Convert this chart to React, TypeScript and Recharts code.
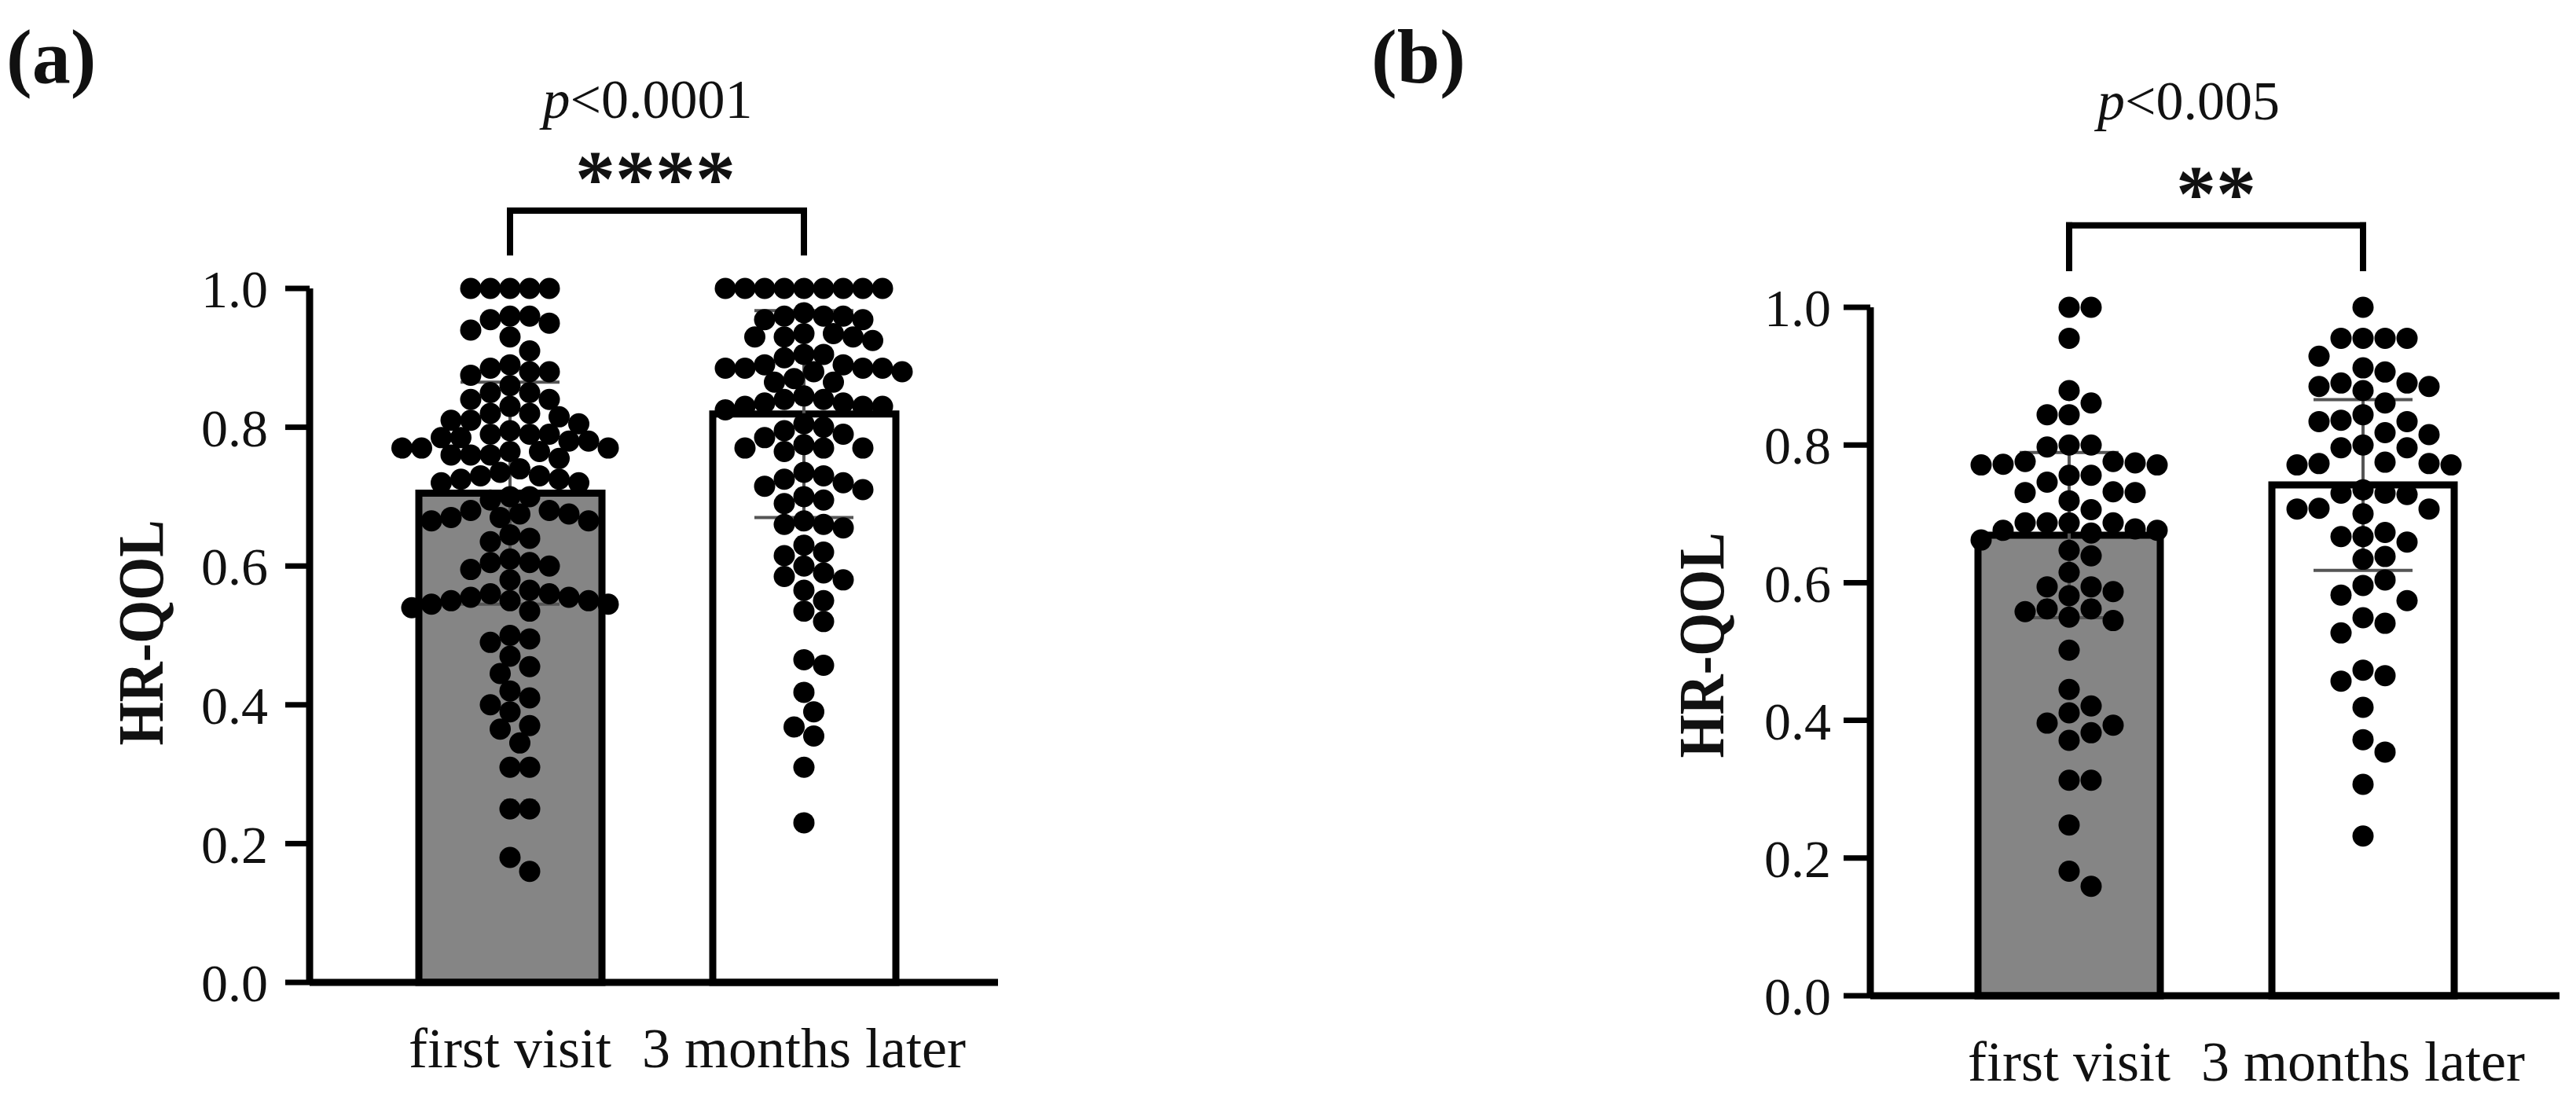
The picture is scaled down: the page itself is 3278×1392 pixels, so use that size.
import React from "react";
import {
  Bar,
  Cell,
  ComposedChart,
  ErrorBar,
  ReferenceLine,
  Scatter,
  XAxis,
  YAxis,
} from "recharts";

const serif = "'Liberation Serif', 'Times New Roman', Times, serif";
const W = 3278;
const H = 1392;

const GROUPS = ["first visit", "3 months later"];
const Y_TICKS = [0, 0.2, 0.4, 0.6, 0.8, 1.0];
const FILLS = ["#858585", "#ffffff"];

// panel (a)
const A_MEANS = [0.705, 0.819];
const A_SD = [0.16, 0.149];
const A_FIRST = [
  1.0, 1.0, 1.0, 1.0, 1.0, 0.96, 0.96, 0.955, 0.95, 0.94, 0.93, 0.91, 0.89,
  0.885, 0.88, 0.88, 0.875, 0.86, 0.85, 0.85, 0.84, 0.84, 0.83, 0.82, 0.82,
  0.815, 0.81, 0.81, 0.805, 0.795, 0.79, 0.79, 0.79, 0.785, 0.785, 0.78, 0.78,
  0.77, 0.77, 0.77, 0.765, 0.765, 0.76, 0.76, 0.76, 0.755, 0.74, 0.735, 0.73,
  0.73, 0.725, 0.725, 0.72, 0.72, 0.7, 0.7, 0.695, 0.68, 0.68, 0.675, 0.675,
  0.67, 0.67, 0.665, 0.665, 0.645, 0.64, 0.635, 0.61, 0.605, 0.605, 0.6,
  0.595, 0.58, 0.565, 0.56, 0.56, 0.555, 0.555, 0.55, 0.55, 0.55, 0.545,
  0.545, 0.54, 0.535, 0.5, 0.495, 0.49, 0.47, 0.455, 0.445, 0.42, 0.41, 0.4,
  0.39, 0.37, 0.365, 0.345, 0.31, 0.31, 0.25, 0.25, 0.18, 0.16,
];
const A_LATER = [
  1.0, 1.0, 1.0, 1.0, 1.0, 1.0, 1.0, 1.0, 1.0, 0.965, 0.96, 0.96, 0.96, 0.955,
  0.955, 0.935, 0.935, 0.93, 0.93, 0.93, 0.925, 0.905, 0.905, 0.9, 0.89, 0.89,
  0.885, 0.885, 0.885, 0.885, 0.88, 0.88, 0.87, 0.865, 0.865, 0.845, 0.84,
  0.84, 0.835, 0.835, 0.83, 0.83, 0.83, 0.825, 0.805, 0.8, 0.795, 0.79, 0.785,
  0.775, 0.77, 0.77, 0.77, 0.765, 0.735, 0.73, 0.725, 0.72, 0.715, 0.71, 0.7,
  0.695, 0.69, 0.665, 0.66, 0.66, 0.655, 0.63, 0.62, 0.615, 0.6, 0.59, 0.585,
  0.58, 0.565, 0.55, 0.535, 0.52, 0.465, 0.457, 0.418, 0.39, 0.368, 0.355,
  0.31, 0.23,
];

// panel (b)
const B_MEANS = [0.669, 0.742];
const B_SD = [0.12, 0.124];
const B_FIRST = [
  1.0, 1.0, 0.955, 0.879, 0.861, 0.844, 0.844, 0.8, 0.8, 0.797, 0.771, 0.772,
  0.776, 0.776, 0.771, 0.774, 0.756, 0.756, 0.746, 0.731, 0.719, 0.732, 0.731,
  0.706, 0.687, 0.676, 0.687, 0.672, 0.687, 0.676, 0.662, 0.678, 0.687, 0.647,
  0.639, 0.615, 0.594, 0.594, 0.587, 0.581, 0.562, 0.55, 0.545, 0.558, 0.562,
  0.502, 0.445, 0.421, 0.411, 0.396, 0.393, 0.382, 0.371, 0.313, 0.313, 0.248,
  0.181, 0.159,
];
const B_LATER = [
  1.0, 0.955, 0.955, 0.955, 0.955, 0.929, 0.906, 0.912, 0.879, 0.885, 0.885,
  0.89, 0.89, 0.861, 0.844, 0.834, 0.836, 0.834, 0.818, 0.815, 0.8, 0.796,
  0.796, 0.771, 0.773, 0.773, 0.771, 0.775, 0.735, 0.728, 0.73, 0.73, 0.7,
  0.708, 0.707, 0.707, 0.659, 0.673, 0.667, 0.667, 0.638, 0.634, 0.604, 0.596,
  0.574, 0.582, 0.527, 0.541, 0.549, 0.473, 0.457, 0.465, 0.419, 0.354, 0.372,
  0.307, 0.232,
];

// horizontal spread of the dots, like a column scatter plot
function swarm(values: number[], yPx: number, step: number, minDist: number) {
  const order = values.map((_, i) => i).sort((a, b) => values[b] - values[a]);
  const placed: { x: number; y: number }[] = [];
  const off = new Array(values.length).fill(0);
  for (const i of order) {
    const y = values[i] * yPx;
    for (let k = 0; k < 80; k++) {
      const x = k === 0 ? 0 : (k % 2 ? 1 : -1) * Math.ceil(k / 2) * step;
      const ok = placed.every(
        (p) => (p.x - x) ** 2 + (p.y - y) ** 2 >= minDist * minDist - 0.01
      );
      if (ok) {
        placed.push({ x, y });
        off[i] = x;
        break;
      }
    }
  }
  return off;
}

const XTick = (props: any) => (
  <text
    x={props.x}
    y={props.y + 108}
    textAnchor="middle"
    fontSize={72}
    fontFamily={serif}
    fill="#111"
  >
    {props.payload.value}
  </text>
);

const Dot = (props: any) => (
  <circle cx={props.cx} cy={props.cy} r={13.5} fill="#000" />
);

const Empty = () => <g />;

interface PanelProps {
  left: number;
  width: number;
  margin: { top: number; right: number; bottom: number; left: number };
  pad: { left: number; right: number };
  barSize: number;
  yPx: number;
  step: number;
  minDist: number;
  first: number[];
  later: number[];
  means: number[];
  sds: number[];
  bracketTop: number;
  bracketLeg: number;
  tickSize: number;
  tickMargin: number;
}

function Panel(p: PanelProps) {
  const barData = GROUPS.map((name, i) => ({ name, mean: p.means[i] }));
  const errData = GROUPS.map((_, i) => ({ x: i, y: p.means[i], err: p.sds[i] }));
  const band =
    (p.width - p.margin.left - 250 - p.margin.right - p.pad.left - p.pad.right) /
    2;
  const dots = [p.first, p.later].flatMap((vals, g) => {
    const off = swarm(vals, p.yPx, p.step, p.minDist);
    return vals.map((v, i) => ({ x: g + off[i] / band, y: v }));
  });
  const line = { stroke: "#000", strokeWidth: 8, strokeLinecap: "square" as const };

  return (
    <div style={{ position: "absolute", left: p.left, top: 0 }}>
      <ComposedChart width={p.width} height={H} data={barData} margin={p.margin}>
        <XAxis
          xAxisId="cat"
          dataKey="name"
          type="category"
          padding={p.pad}
          axisLine={{ stroke: "#000", strokeWidth: 9 }}
          tickLine={false}
          tickSize={0}
          tickMargin={0}
          height={100}
          interval={0}
          tick={(t: any) => <XTick {...t} />}
        />
        <XAxis
          xAxisId="num"
          dataKey="x"
          type="number"
          domain={[-0.5, 1.5]}
          padding={p.pad}
          hide
        />
        <YAxis
          dataKey="y"
          type="number"
          domain={[0, 1]}
          ticks={Y_TICKS}
          interval={0}
          width={250}
          tickFormatter={(v: number) => v.toFixed(1)}
          axisLine={{ stroke: "#000", strokeWidth: 9 }}
          tickLine={{ stroke: "#000", strokeWidth: 7 }}
          tickSize={p.tickSize}
          tickMargin={p.tickMargin}
          tick={{ fontSize: 68, fill: "#111", fontFamily: serif }}
        />
        <Bar
          xAxisId="cat"
          dataKey="mean"
          barSize={p.barSize}
          stroke="#000"
          strokeWidth={9}
          isAnimationActive={false}
        >
          {barData.map((_, i) => (
            <Cell key={i} fill={FILLS[i]} />
          ))}
        </Bar>
        <Scatter
          xAxisId="num"
          data={dots}
          shape={Dot}
          isAnimationActive={false}
        />
        <Scatter
          xAxisId="num"
          data={errData}
          shape={Empty}
          isAnimationActive={false}
        >
          <ErrorBar
            dataKey="err"
            direction="y"
            width={63}
            stroke="#555"
            strokeWidth={4}
            isAnimationActive={false}
          />
        </Scatter>
        <ReferenceLine
          xAxisId="num"
          ifOverflow="visible"
          segment={[
            { x: 0, y: p.bracketTop },
            { x: 1, y: p.bracketTop },
          ]}
          {...line}
        />
        <ReferenceLine
          xAxisId="num"
          ifOverflow="visible"
          segment={[
            { x: 0, y: p.bracketTop },
            { x: 0, y: p.bracketLeg },
          ]}
          {...line}
        />
        <ReferenceLine
          xAxisId="num"
          ifOverflow="visible"
          segment={[
            { x: 1, y: p.bracketTop },
            { x: 1, y: p.bracketLeg },
          ]}
          {...line}
        />
      </ComposedChart>
    </div>
  );
}

export default function App() {
  return (
    <div
      style={{
        position: "absolute",
        left: 0,
        top: 0,
        width: W,
        height: H,
        background: "#fff",
        overflow: "hidden",
      }}
    >
      <Panel
        left={0}
        width={1300}
        margin={{ top: 367, right: 30, bottom: 42, left: 144 }}
        pad={{ left: 68, right: 60 }}
        barSize={233}
        yPx={883}
        step={12.5}
        minDist={25}
        first={A_FIRST}
        later={A_LATER}
        means={A_MEANS}
        sds={A_SD}
        bracketTop={1.112}
        bracketLeg={1.052}
        tickSize={31}
        tickMargin={22}
      />
      <Panel
        left={2000}
        width={1278}
        margin={{ top: 391, right: 21, bottom: 25, left: 130 }}
        pad={{ left: 66, right: 63 }}
        barSize={232}
        yPx={876}
        step={28}
        minDist={27}
        first={B_FIRST}
        later={B_LATER}
        means={B_MEANS}
        sds={B_SD}
        bracketTop={1.119}
        bracketLeg={1.057}
        tickSize={34}
        tickMargin={16}
      />
      <svg
        width={W}
        height={H}
        style={{ position: "absolute", left: 0, top: 0, pointerEvents: "none" }}
        fontFamily={serif}
        fill="#111"
      >
        <text x={8} y={105} fontSize={98} fontWeight="bold">
          (a)
        </text>
        <text x={1745} y={105} fontSize={98} fontWeight="bold">
          (b)
        </text>
        <text x={824} y={150} fontSize={70} textAnchor="middle">
          <tspan fontStyle="italic">p</tspan>&lt;0.0001
        </text>
        <text x={834} y={262} fontSize={102} fontWeight="bold" textAnchor="middle">
          ****
        </text>
        <text x={2785} y={152} fontSize={70} textAnchor="middle">
          <tspan fontStyle="italic">p</tspan>&lt;0.005
        </text>
        <text x={2820} y={281} fontSize={102} fontWeight="bold" textAnchor="middle">
          **
        </text>
        <text
          x={207}
          y={805}
          transform="rotate(-90 207 805)"
          fontSize={82}
          fontWeight="bold"
          textAnchor="middle"
          textLength={287}
          lengthAdjust="spacingAndGlyphs"
        >
          HR-QOL
        </text>
        <text
          x={2193}
          y={821}
          transform="rotate(-90 2193 821)"
          fontSize={82}
          fontWeight="bold"
          textAnchor="middle"
          textLength={287}
          lengthAdjust="spacingAndGlyphs"
        >
          HR-QOL
        </text>
      </svg>
    </div>
  );
}
